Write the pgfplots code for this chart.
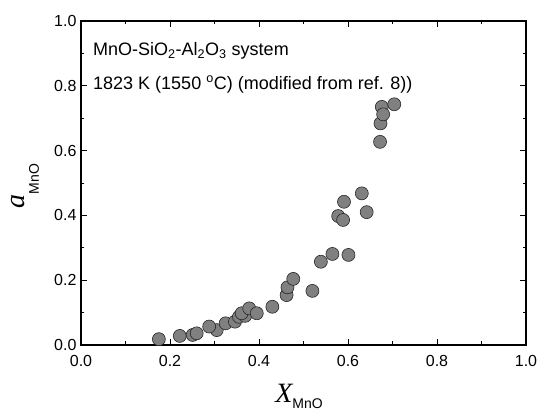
\documentclass[border=0pt]{standalone}
\usepackage{fontspec}
\setmainfont{Liberation Sans}
\newfontfamily\timesfont{Liberation Serif}
\usepackage{pgfplots}
\pgfplotsset{compat=1.18}
\definecolor{markgray}{RGB}{128,128,128}
\begin{document}
\begin{tikzpicture}
\path[use as bounding box] (-81pt,-67pt) rectangle (457pt,345pt);
\begin{axis}[
  at={(0pt,0pt)}, anchor=south west,
  scale only axis, width=445pt, height=324pt,
  xmin=0, xmax=1, ymin=0, ymax=1,
  xtick={0,0.2,...,1.0}, ytick={0,0.2,...,1.0},
  minor x tick num=1, minor y tick num=1,
  tick align=inside,
  major tick length=6pt, minor tick length=3.5pt,
  axis line style={line width=1.2pt},
  every tick/.style={line width=0.8pt, black},
  /pgf/number format/assume math mode=true,
  /pgf/number format/.cd, fixed, fixed zerofill, precision=1, /pgfplots/.cd,
  tick label style={font=\fontsize{16}{16}\selectfont},
  xticklabel style={yshift=-7pt},
  yticklabel style={xshift=-1pt},
  xlabel={{\fontsize{28}{28}\timesfont\itshape X}\raisebox{-6pt}{\fontsize{14}{14}\selectfont MnO}},
  xlabel style={at={(axis description cs:0.49,-0.176)}, anchor=base},
  ylabel={{\fontsize{28}{28}\timesfont\itshape a}\raisebox{-14pt}{\fontsize{14}{14}\selectfont MnO}},
  ylabel style={at={(axis description cs:0,0.49)}, anchor=base, yshift=56pt, rotate=0},
  clip=false,
]
\addplot[only marks, mark=*, mark size=6.5pt,
  mark options={fill=markgray, draw=black!85, line width=0.6pt}]
coordinates {
(0.175,0.018) (0.222,0.028) (0.251,0.031) (0.260,0.036) (0.305,0.046)
(0.288,0.057) (0.325,0.067) (0.346,0.072) (0.355,0.087) (0.369,0.090)
(0.361,0.098) (0.378,0.113) (0.395,0.098) (0.430,0.118) (0.462,0.154)
(0.464,0.178) (0.477,0.204) (0.520,0.167) (0.539,0.257) (0.565,0.281)
(0.601,0.278) (0.578,0.398) (0.589,0.386) (0.591,0.442) (0.642,0.410)
(0.631,0.468) (0.672,0.627) (0.673,0.684) (0.676,0.735) (0.679,0.712)
(0.704,0.743)
};
\node[anchor=base west, font=\fontsize{18}{18}\selectfont, inner sep=0pt]
  at (axis description cs:0.027,0.893) {MnO-SiO\textsubscript{2}-Al\textsubscript{2}O\textsubscript{3} system};
\node[anchor=base west, font=\fontsize{18}{18}\selectfont, inner sep=0pt]
  at (axis description cs:0.027,0.790) {1823 K (1550 \textsuperscript{o}C) (modified from ref. 8))};
\end{axis}
\end{tikzpicture}
\end{document}
